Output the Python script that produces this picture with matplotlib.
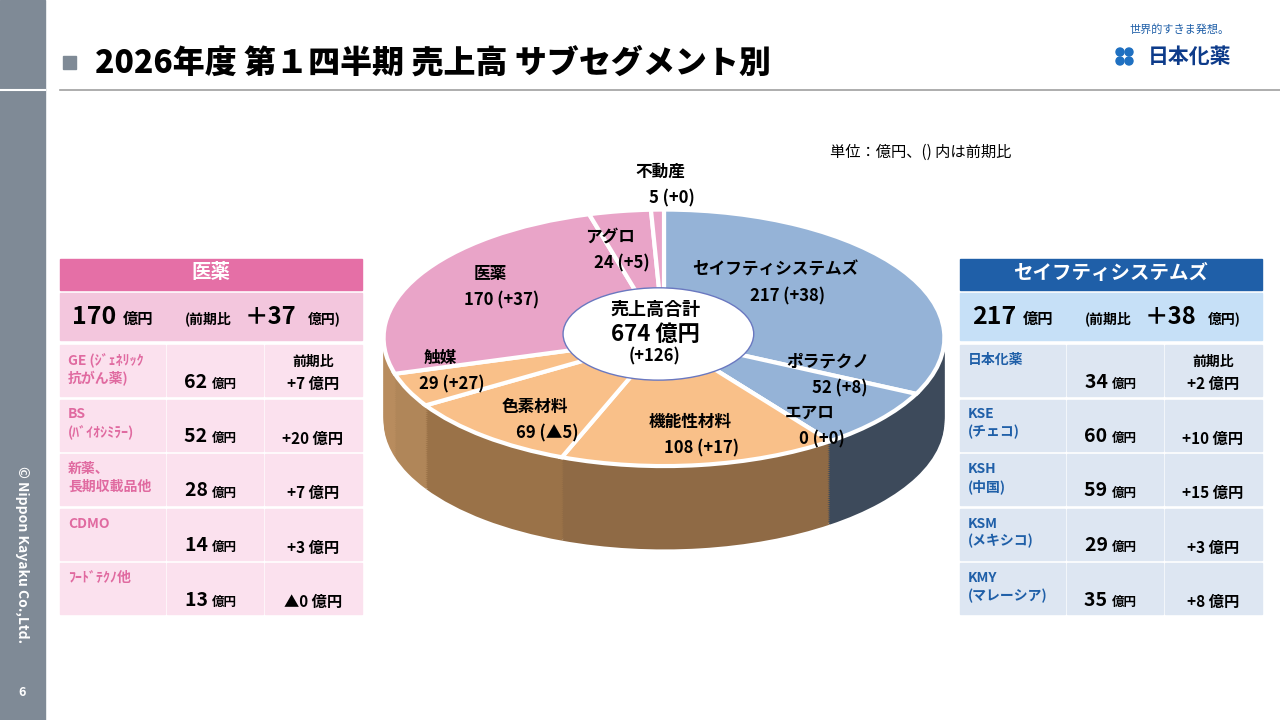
import numpy as np
import matplotlib.pyplot as plt
from matplotlib.patches import Rectangle, Ellipse

plt.rcParams['font.family'] = ['Noto Sans CJK JP', 'DejaVu Sans']

# pie data (clockwise from top)
segments = ['セイフティシステムズ', 'ポラテクノ', 'エアロ', '機能性材料', '色素材料',
            '触媒', '医薬', 'アグロ', '不動産']
sales = [217, 52, 0, 108, 69, 29, 170, 24, 5]
diffs = ['+38', '+8', '+0', '+17', '▲5', '+27', '+37', '+5', '+0']
top_colors = ['#95b3d7', '#95b3d7', '#95b3d7', '#f9c089', '#f9c089', '#f9c089',
              '#e9a4c8', '#e9a4c8', '#e9a4c8']
side_colors = ['#3d4a5b', '#3d4a5b', '#3d4a5b', '#8f6a45', '#9a7248', '#b08659',
               '#b88c5e', '#b88c5e', '#b88c5e']
total, total_diff = 674, '+126'

# tables
med_items = ['GE (ｼﾞｪﾈﾘｯｸ\n抗がん薬)', 'BS\n(ﾊﾞｲｵｼﾐﾗｰ)', '新薬、\n長期収載品他', 'CDMO', 'ﾌｰﾄﾞﾃｸﾉ他']
med_sales = [62, 52, 28, 14, 13]
med_diff = ['+7', '+20', '+7', '+3', '▲0']
med_total, med_total_diff = 170, 37
ss_items = ['日本化薬', 'KSE\n(チェコ)', 'KSH\n(中国)', 'KSM\n(メキシコ)', 'KMY\n(マレーシア)']
ss_sales = [34, 60, 59, 29, 35]
ss_diff = ['+2', '+10', '+15', '+3', '+8']
ss_total, ss_total_diff = 217, 38

fig = plt.figure(figsize=(12.8, 7.2), dpi=100)
bg = fig.add_axes([0, 0, 1, 1])
bg.set_xlim(0, 1280)
bg.set_ylim(720, 0)
bg.axis('off')

# sidebar, title
bg.add_patch(Rectangle((0, 0), 45, 720, color='#7f8a96'))
bg.plot([0, 45], [90, 90], color='white', lw=1.5)
bg.text(22, 555, '© Nippon Kayaku Co.,Ltd.', rotation=-90, color='white',
        fontsize=10, fontweight='bold', ha='center', va='center')
bg.text(22, 692, '6', color='white', fontsize=9, fontweight='bold', ha='center', va='center')
bg.add_patch(Rectangle((63, 56), 13, 13, color='#7f8a96'))
bg.text(95, 63, '2026年度 第１四半期 売上高 サブセグメント別', fontsize=23,
        fontweight='heavy', va='center')
bg.plot([60, 1280], [90, 90], color='#a0a0a0', lw=1.2)
bg.text(1180, 30, '世界的すきま発想。', fontsize=8, color='#1f5fa8', ha='center', va='center')
bg.text(1190, 56, '日本化薬', fontsize=15, fontweight='bold', color='#0d3b8a',
        ha='center', va='center')
for dx, dy in [(0, 0), (9, 0), (0, 9), (9, 9)]:
    bg.add_patch(Ellipse((1120 + dx, 52 + dy), 8, 8, color='#1f70c1'))
bg.text(830, 152, '単位：億円、() 内は前期比', fontsize=11, va='center')

# pseudo-3D pie
ax = fig.add_axes([378 / 1280, 1 - 552 / 720, 572 / 1280, 345 / 720])
depth = 0.65
for k in np.linspace(depth, 0.02, 40):
    ax.pie(sales, colors=side_colors, startangle=90, counterclock=False,
           center=(0, -k), wedgeprops=dict(linewidth=0))
ax.pie(sales, colors=top_colors, startangle=90, counterclock=False,
       wedgeprops=dict(edgecolor='white', linewidth=3))
ax.add_patch(Ellipse((-0.02, 0.03), 0.68, 0.72, facecolor='white',
                     edgecolor='#6a78c0', lw=1, zorder=5))
ax.set_aspect('auto')
ax.set_xlim(-1.02, 1.02)
ax.set_ylim(-1 - depth - 0.02, 1.02)
ax.axis('off')

# overlay for labels
fg = fig.add_axes([0, 0, 1, 1])
fg.set_xlim(0, 1280)
fg.set_ylim(720, 0)
fg.axis('off')
label_pos = [(775, 270), (828, 362), (810, 413), (690, 422), (535, 407),
             (440, 358), (490, 274), (610, 237), (660, 172)]
for name, v, d, (x, y) in zip(segments, sales, diffs, label_pos):
    fg.text(x, y, name, fontsize=12, fontweight='bold', ha='center', va='center')
    fg.text(x + 12, y + 26, f'{v} ({d})', fontsize=12, fontweight='bold',
            ha='center', va='center')
fg.text(655, 309, '売上高合計', fontsize=13, fontweight='bold', ha='center', va='center')
fg.text(655, 334, f'{total} 億円', fontsize=16, fontweight='bold', ha='center', va='center')
fg.text(655, 356, f'({total_diff})', fontsize=12, fontweight='bold', ha='center', va='center')


def draw_table(x0, title, head_c, sum_c, row_c, name_c, tot, tdiff, items, vals, dfs):
    w = 302
    fg.add_patch(Rectangle((x0, 259), w, 31, color=head_c))
    fg.text(x0 + w / 2, 273, title, color='white', fontsize=14, fontweight='bold',
            ha='center', va='center')
    fg.add_patch(Rectangle((x0, 293), w, 47, color=sum_c))
    fg.text(x0 + 12, 317, f'{tot}', fontsize=18, fontweight='bold', va='center')
    fg.text(x0 + 63, 319, '億円', fontsize=11, fontweight='bold', va='center')
    fg.text(x0 + 125, 319, '(前期比', fontsize=10, fontweight='bold', va='center')
    fg.text(x0 + 185, 317, f'＋{tdiff}', fontsize=17, fontweight='bold', va='center')
    fg.text(x0 + 248, 319, '億円)', fontsize=10, fontweight='bold', va='center')
    cols = [(x0, 105), (x0 + 107, 96), (x0 + 205, 97)]
    for i, (it, v, d) in enumerate(zip(items, vals, dfs)):
        y = 345 + i * 54.5
        for cx, cw in cols:
            fg.add_patch(Rectangle((cx, y), cw, 51, color=row_c))
        fg.text(x0 + 8, y + 8, it, color=name_c, fontsize=10, fontweight='bold',
                va='top', linespacing=1.3)
        fg.text(x0 + 152, y + 37, f'{v} ', fontsize=14, fontweight='bold',
                ha='right', va='center')
        fg.text(x0 + 152, y + 39, '億円', fontsize=9, fontweight='bold', va='center')
        fg.text(x0 + 253, y + 39, f'{d} 億円', fontsize=11, fontweight='bold',
                ha='center', va='center')
        if i == 0:
            fg.text(x0 + 253, y + 17, '前期比', fontsize=10, fontweight='bold',
                    ha='center', va='center')


draw_table(60, '医薬', '#e56fa6', '#f3c6dd', '#fbe1ee', '#e06aa0',
           med_total, med_total_diff, med_items, med_sales, med_diff)
draw_table(960, 'セイフティシステムズ', '#1f5fa8', '#c6e0f7', '#dde6f2', '#1f5fa8',
           ss_total, ss_total_diff, ss_items, ss_sales, ss_diff)

fig.savefig('out.png', dpi=100)
